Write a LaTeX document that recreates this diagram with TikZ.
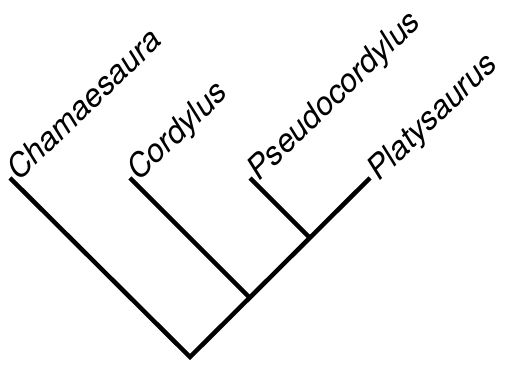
\documentclass[tikz,border=0pt]{standalone}
\usepackage{fontspec}
\setmainfont{TeX Gyre Heros}
\usetikzlibrary{positioning}

\begin{document}
\begin{tikzpicture}[
    x=1pt, y=1pt,
    branch/.style={line width=4.5pt, line join=miter},
    taxon/.style={rotate=44, anchor=base west, inner sep=0pt, font=\fontsize{32}{32}\selectfont\itshape}
]
\useasboundingbox (0,0) rectangle (510,366);

% Tips and internal nodes
\coordinate (chama) at (10,188);
\coordinate (cord) at (130,188);
\coordinate (pseudo) at (250,188);
\coordinate (platy) at (370,188);
\coordinate (root) at (190,9);
\coordinate (n1) at (249.5,68.5);
\coordinate (n2) at (309.5,128.5);

% Labels
\node[taxon] (lchama) at ([shift={(9,-4)}]chama) {Chamaesaura};
\node[taxon] (lcord) at ([shift={(9,-4)}]cord) {Cordylus};
\node[taxon] (lpseudo) at ([shift={(9,-4)}]pseudo) {Pseudocordylus};
\node[taxon] (lplaty) at ([shift={(9,-4)}]platy) {Platysaurus};

% Branches
\draw[branch] (chama) -- (root) -- (platy);
\draw[branch] (cord) -- (n1);
\draw[branch] (pseudo) -- (n2);

\end{tikzpicture}
\end{document}
